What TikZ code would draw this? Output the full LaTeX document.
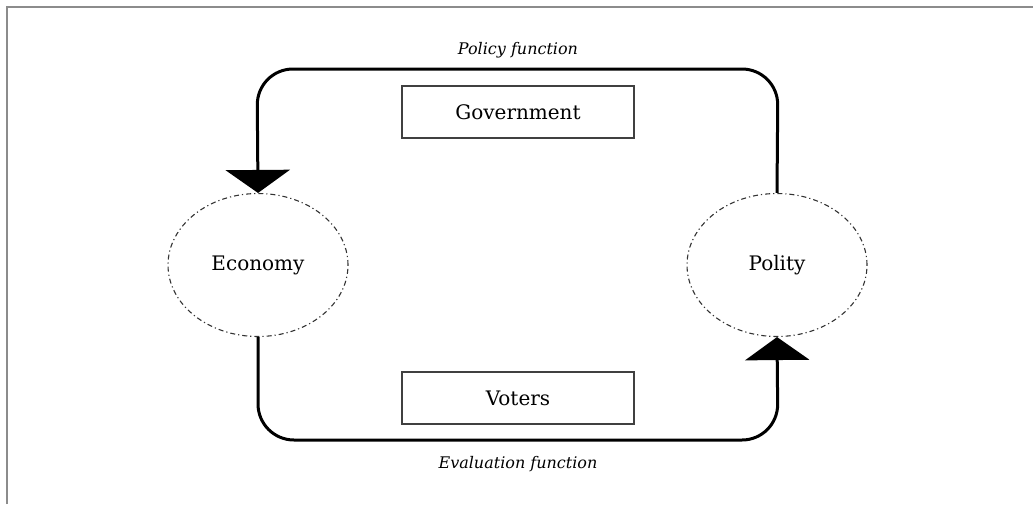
\documentclass[tikz,border=0pt]{standalone}
\usepackage{fontspec}
\setmainfont{DejaVu Serif}
\usetikzlibrary{shapes.geometric,arrows.meta}
\begin{document}
\begin{tikzpicture}[x=1pt,y=-1pt,
  ell/.style={ellipse,draw=black!80,line width=1.1pt,dash pattern=on 5pt off 3pt on 1.2pt off 3pt,minimum width=180pt,minimum height=143pt,inner sep=0pt,font=\fontsize{20}{24}\selectfont},
  labbox/.style={rectangle,draw=black!75,line width=1.3pt,minimum width=232pt,minimum height=52pt,inner sep=0pt,font=\fontsize{20}{24}\selectfont},
  loopline/.style={line width=3pt,rounded corners=36pt},
  bigtip/.style={-{Triangle[width=64pt,length=23pt]}},
  fnlabel/.style={font=\itshape\fontsize{16}{19}\selectfont}]
\useasboundingbox (0,0) rectangle (1033,504);
\draw[black!45,line width=2pt] (7,504) -- (7,7) -- (1033,7);
\node[ell] (eco) at (258,265) {Economy};
\node[ell] (pol) at (777,265) {Polity};
\node[labbox] (gov) at (518,112) {Government};
\node[labbox] (vot) at (518,398) {Voters};
\coordinate (tr) at (778,69);
\coordinate (tl) at (257,69);
\coordinate (bl) at (258,440);
\coordinate (br) at (778,440);
\draw[loopline,bigtip] (pol.north) -- (tr) -- (tl) -- (eco.north);
\draw[loopline,bigtip] (eco.south) -- (bl) -- (br) -- (pol.south);
\node[fnlabel] (pf) at (518,50) {Policy function};
\node[fnlabel] (ef) at (518,464) {Evaluation function};
\end{tikzpicture}
\end{document}
